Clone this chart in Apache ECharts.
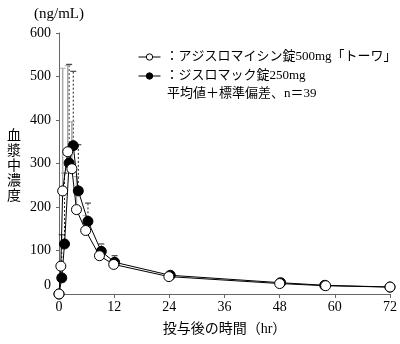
<!DOCTYPE html>
<html>
<head>
<meta charset="utf-8">
<script src="https://cdn.jsdelivr.net/npm/echarts@6/dist/echarts.min.js"></script>
<style>
  html, body { margin: 0; padding: 0; background: #fff; }
  #chart { width: 400px; height: 344px; }
</style>
</head>
<body>
<div id="chart"></div>
<script>
// Plasma concentration (ng/mL) after a single dose, mean + SD (n = 39)
const seriesNames = ['アジスロマイシン錠500mg「トーワ」', 'ジスロマック錠250mg'];

// Test product (open circles)
const testTimes = [0, 0.4, 0.8, 1.9, 2.8, 3.8, 5.8, 8.8, 11.9, 23.9, 48, 58, 72];
const testMean  = [0, 64, 237, 327, 288, 194, 146, 88, 68, 40, 24, 19, 16];
const testSD    = [0, 11, 282, 198, 108, 76, 34, 12, 12, 6, 4, 3, 2];

// Reference product (filled circles)
const refTimes = [0, 0.6, 1.2, 2.2, 3.1, 4.2, 6.3, 9.2, 12.1, 24.2, 48.2, 57.8, 72];
const refMean  = [0, 37, 115, 301, 341, 237, 167, 98, 73, 43, 26, 20, 16];
const refSD    = [0, 99, 163, 227, 171, 106, 42, 17, 15, 7, 4, 3, 2];

// Axis ticks
const xTicks = { min: 0, max: 72, interval: 12 };
const yTicks = { min: 0, max: 600, interval: 100 };

const yTitle = '血漿中濃度';
const note = '平均値＋標準偏差、n＝39';

const FONT = '"Liberation Serif", "Noto Sans CJK JP", serif';
const CJK = '"Noto Sans CJK JP", sans-serif';

const pairs = (xs, ys) => xs.map((x, i) => [x, ys[i]]);
const triples = (xs, ys, sd) => xs.map((x, i) => [x, ys[i], sd[i]]);

function errorBar(stroke, dash, width) {
  return function (params, api) {
    const sd = api.value(2);
    if (!sd) return null;
    const t = api.value(0), m = api.value(1);
    const lo = api.coord([t, m]);
    const hi = api.coord([t, m + sd]);
    const style = { stroke: stroke, lineWidth: width, lineDash: dash, fill: null };
    return {
      type: 'group',
      children: [
        { type: 'line', shape: { x1: lo[0], y1: lo[1], x2: hi[0], y2: hi[1] }, style: style },
        { type: 'line', shape: { x1: hi[0] - 3, y1: hi[1], x2: hi[0] + 3, y2: hi[1] },
          style: { stroke: stroke, lineWidth: 1, fill: null } }
      ]
    };
  };
}

// Stacked (vertical) axis title, one glyph per row
const yTitleGlyphs = yTitle.split('').map((ch, i) => ({
  type: 'text',
  x: 14, y: 128 + i * 15,
  style: {
    text: ch, fontSize: 14, fontFamily: CJK, fill: '#000',
    textAlign: 'center', textVerticalAlign: 'top'
  }
}));

const chart = echarts.init(document.getElementById('chart'), null, { renderer: 'canvas' });

chart.setOption({
  animation: false,
  backgroundColor: '#fff',
  textStyle: { fontFamily: FONT, color: '#000' },
  title: {
    text: note,
    left: 167, top: 87, padding: 0,
    textStyle: { fontFamily: FONT, fontSize: 13, fontWeight: 'normal', color: '#000' }
  },
  graphic: yTitleGlyphs,
  grid: { left: 59, right: 7, top: 33, bottom: 50 },
  legend: {
    data: seriesNames,
    orient: 'vertical',
    left: 138,
    top: 50,
    padding: 0,
    itemWidth: 22,
    itemHeight: 8,
    itemGap: 5,
    lineStyle: { width: 1 },
    itemStyle: { borderWidth: 1 },
    formatter: name => '：' + name,
    textStyle: { fontFamily: FONT, fontSize: 13, color: '#000', lineHeight: 14 }
  },
  xAxis: {
    type: 'value',
    min: xTicks.min, max: xTicks.max, interval: xTicks.interval,
    name: '投与後の時間（hr）',
    nameLocation: 'middle',
    nameGap: 28,
    nameTextStyle: { fontFamily: FONT, fontSize: 14, color: '#000' },
    axisLine: { lineStyle: { color: '#666', width: 1 } },
    axisTick: { inside: false, length: 4, lineStyle: { color: '#666' } },
    axisLabel: { margin: 6, fontFamily: FONT, fontSize: 14, color: '#000' },
    splitLine: { show: false }
  },
  yAxis: {
    type: 'value',
    min: yTicks.min, max: yTicks.max, interval: yTicks.interval,
    name: '(ng/mL)',
    nameLocation: 'end',
    nameGap: 11,
    nameTextStyle: { fontFamily: FONT, fontSize: 15, color: '#000', align: 'center' },
    axisLine: { show: true, lineStyle: { color: '#666', width: 1 } },
    axisTick: { show: true, inside: false, length: 3, lineStyle: { color: '#666' } },
    axisLabel: {
      margin: 8, fontFamily: FONT, fontSize: 14, color: '#000',
      formatter: v => (v === 0 ? '{z|0}' : String(v)),
      rich: { z: { fontFamily: FONT, fontSize: 14, color: '#000', padding: [0, 0, 18, 0] } }
    },
    splitLine: { show: false }
  },
  series: [
    {
      type: 'custom',
      name: 'refSD',
      renderItem: errorBar('#222', [2, 2], 1),
      data: triples(refTimes, refMean, refSD),
      z: 1,
      silent: true
    },
    {
      type: 'custom',
      name: 'testSD',
      renderItem: errorBar('#a8a8a8', null, 1.5),
      data: triples(testTimes, testMean, testSD),
      z: 1,
      silent: true
    },
    {
      type: 'line',
      name: seriesNames[1],
      data: pairs(refTimes, refMean),
      symbol: 'circle',
      symbolSize: 10,
      lineStyle: { color: '#000', width: 1 },
      itemStyle: { color: '#000', borderColor: '#000', borderWidth: 1 },
      z: 3
    },
    {
      type: 'line',
      name: seriesNames[0],
      data: pairs(testTimes, testMean),
      symbol: 'circle',
      symbolSize: 10,
      lineStyle: { color: '#000', width: 1 },
      itemStyle: { color: '#fff', borderColor: '#000', borderWidth: 1 },
      z: 4
    }
  ]
});
</script>
</body>
</html>
